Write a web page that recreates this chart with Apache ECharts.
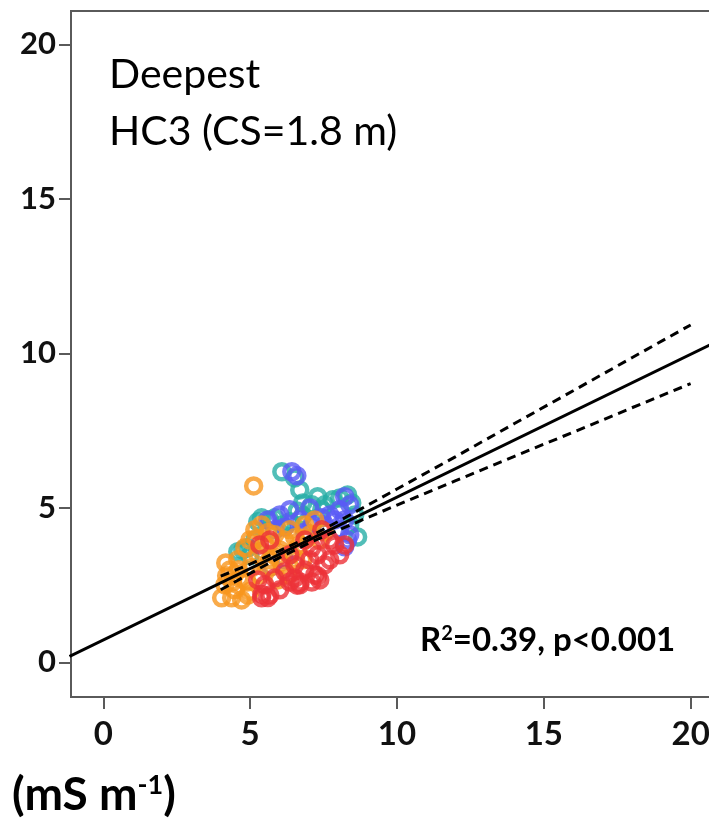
<!DOCTYPE html>
<html><head><meta charset="utf-8">
<script src="https://cdn.jsdelivr.net/npm/echarts@6/dist/echarts.min.js"></script>
<style>html,body{margin:0;padding:0;background:#fff}#c{width:709px;height:824px}</style>
</head><body><div id="c"></div>
<script>
// Tick labels
var xTicks = [0, 5, 10, 15, 20];
var yTicks = [0, 5, 10, 15, 20];

// Scatter groups [x, y]
var greenPts = [[6.8,4.75]];
var tealPts = [[6.08,6.17],[6.52,5.97],[6.69,5.58],[6.79,5.16],[6.60,4.90],[7.30,5.36],[7.54,5.10],[7.81,5.26],[8.05,5.32],[8.32,5.42],[8.46,5.16],[8.56,4.77],[8.66,4.06],[8.39,4.45],[7.44,4.94],[7.10,5.10],[5.39,4.68],[5.67,4.61],[5.26,4.55],[5.84,4.68],[6.08,4.45],[6.35,4.55],[4.92,3.71],[4.75,3.64],[4.99,3.45],[4.58,3.58],[5.16,3.96]];
var bluePts = [[6.42,6.17],[6.59,6.04],[8.22,5.36],[8.39,5.10],[8.05,4.94],[7.88,4.61],[7.54,4.45],[7.71,4.77],[8.22,4.61],[8.05,4.29],[8.32,3.96],[7.44,4.68],[7.10,4.45],[6.86,4.22],[6.69,4.61],[6.18,4.38],[5.84,4.29],[5.60,4.61],[6.01,4.77],[6.35,4.94],[7.03,5.00],[8.22,3.74],[8.39,4.13],[6.18,3.32],[5.70,3.10]];
var orangePts = [[4.03,2.09],[4.14,2.51],[4.31,2.99],[4.17,3.22],[4.48,2.35],[4.65,2.73],[4.58,3.32],[4.82,3.71],[4.99,3.96],[5.16,4.29],[5.39,4.45],[5.26,3.48],[5.50,3.80],[5.67,3.32],[5.84,4.13],[6.01,3.64],[6.18,3.96],[6.35,4.29],[6.52,4.03],[6.69,3.80],[6.86,4.45],[7.03,4.13],[7.20,4.61],[4.92,2.18],[4.71,2.02],[4.37,2.09],[5.33,2.83],[5.60,3.06],[6.11,3.16],[5.94,2.67],[6.55,3.32],[6.28,2.83],[5.05,3.06],[7.37,3.96],[7.54,4.22],[6.79,3.32],[5.12,5.71],[4.40,2.60],[4.90,2.60],[5.00,2.30],[4.20,2.80],[4.60,3.00],[5.40,3.60],[5.20,4.00],[5.60,4.20],[5.70,3.90],[6.40,3.50],[6.90,4.00],[5.90,3.40]];
var redPts = [[5.26,2.67],[5.39,2.09],[5.50,2.51],[5.67,2.18],[5.84,2.73],[6.01,2.35],[6.18,2.93],[6.35,2.60],[6.52,2.73],[6.69,2.51],[6.52,3.16],[6.86,2.99],[7.03,3.32],[7.20,2.83],[7.37,2.67],[7.30,3.48],[7.54,3.16],[7.71,3.32],[7.88,3.80],[8.05,3.48],[7.71,3.96],[7.44,4.29],[8.22,3.80],[5.33,3.80],[5.67,3.96],[6.86,3.96],[7.10,3.71],[6.35,3.48],[5.40,2.20],[5.60,2.10],[6.60,2.50],[6.70,2.60],[7.30,2.80],[7.10,2.60]];

// Regression line and confidence band
var fitLine = [[-1.15,0.19],[21,10.43]];
var upperBand = [[4,2.79],[5,3.18],[6,3.61],[7,4.06],[8,4.56],[10,5.61],[12,6.66],[14,7.73],[16,8.79],[18,9.86],[20,10.92]];
var lowerBand = [[4,2.35],[5,2.88],[6,3.39],[7,3.86],[8,4.28],[10,5.09],[12,5.88],[14,6.67],[16,7.45],[18,8.24],[20,9.02]];

var axisColor = '#5a5a5a';
function ring(name, data, color) {
  return {
    name: name, type: 'scatter', data: data, symbol: 'circle', symbolSize: 15,
    itemStyle: { color: 'rgba(0,0,0,0)', borderColor: color, borderWidth: 4.5 },
    silent: true
  };
}
function axisCfg(min, max, ticks, margin, size) {
  return {
    type: 'value', min: min, max: max,
    axisLine: { show: true, onZero: false, lineStyle: { color: axisColor, width: 2 } },
    axisTick: { show: true, customValues: ticks, length: 12, lineStyle: { color: axisColor, width: 2 } },
    axisLabel: { customValues: ticks, margin: margin, fontFamily: 'Lato', fontWeight: 'bold', fontSize: size, color: '#111' },
    splitLine: { show: false }
  };
}

var chart = echarts.init(document.getElementById('c'), null, { renderer: 'canvas' });
chart.setOption({
  animation: false,
  backgroundColor: '#fff',
  grid: { left: 71, top: 11, right: -11, bottom: 127, show: true, borderColor: axisColor, borderWidth: 2, outerBoundsMode: 'none', containLabel: false },
  xAxis: axisCfg(-1.1, 21, xTicks, 21, 33),
  yAxis: axisCfg(-1.12, 21.08, yTicks, 15, 31),
  series: [
    ring('green', greenPts, '#5cbf3c'),
    ring('teal', tealPts, '#27aea6'),
    ring('blue', bluePts, '#5a5af5'),
    ring('orange', orangePts, '#f7961e'),
    ring('red', redPts, '#ec3238'),
    { type: 'line', data: fitLine, showSymbol: false, silent: true, lineStyle: { color: '#000', width: 3 }, z: 5 },
    { type: 'line', data: upperBand, showSymbol: false, silent: true, lineStyle: { color: '#000', width: 3, type: [9, 6] }, z: 5 },
    { type: 'line', data: lowerBand, showSymbol: false, silent: true, lineStyle: { color: '#000', width: 3, type: [9, 6] }, z: 5 }
  ],
  graphic: [
    { type: 'text', x: 109, y: 46, silent: true,
      style: { text: 'Deepest\nHC3 (CS=1.8 m)', fontFamily: 'Lato', fontSize: 41, lineHeight: 57, fill: '#000' } },
    { type: 'text', x: 420, y: 640, silent: true,
      style: { text: '{b|R}{s|2}{b|=0.39, p<0.001}', verticalAlign: 'middle', fill: '#000',
        rich: { b: { fontFamily: 'Lato', fontWeight: 'bold', fontSize: 33, fill: '#000' },
                s: { fontFamily: 'Lato', fontWeight: 'bold', fontSize: 20, fill: '#000', verticalAlign: 'top', padding: [0,0,12,0] } } } },
    { type: 'text', x: 12, y: 795, silent: true,
      style: { text: '{b|(mS m}{s|-1}{b|)}', verticalAlign: 'middle', fill: '#000',
        rich: { b: { fontFamily: 'Lato', fontWeight: 'bold', fontSize: 46, fill: '#000' },
                s: { fontFamily: 'Lato', fontWeight: 'bold', fontSize: 27, fill: '#000', verticalAlign: 'top', padding: [0,0,16,0] } } } }
  ]
});
</script></body></html>
